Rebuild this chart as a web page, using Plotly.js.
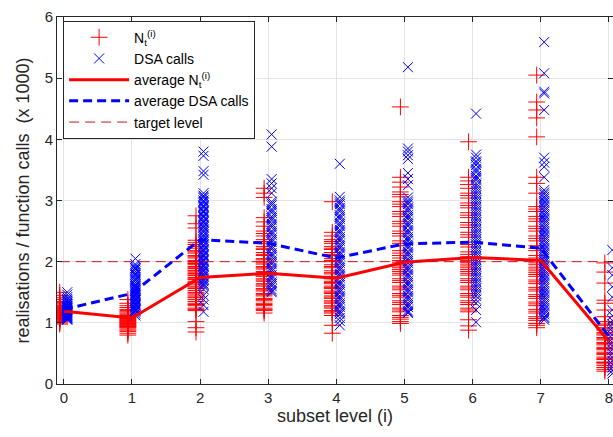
<!DOCTYPE html>
<html>
<head>
<meta charset="utf-8">
<script src="https://cdn.plot.ly/plotly-3.0.1.min.js"></script>
<style>html,body{margin:0;padding:0;background:#fff;}#chart{width:613px;height:437px;}</style>
</head>
<body>
<div id="chart"></div>
<script>
// subset levels
var levels = [0, 1, 2, 3, 4, 5, 6, 7, 8];

// N_t^(i) realisations per level (x 1000)
var nt0 = [1.50,1.45,1.41,1.38,1.35,1.33,1.31,1.29,1.28,1.27,1.25,1.24,1.23,1.22,1.21,1.20,1.19,1.18,1.17,1.16,1.15,1.14,1.13,1.12,1.11,1.10,1.09,1.08,1.07,1.06,1.05,1.04,1.02,1.00,0.98];
var nt1 = [1.38,1.32,1.28,1.25,1.22,1.20,1.18,1.16,1.14,1.12,1.11,1.10,1.09,1.08,1.07,1.06,1.05,1.04,1.03,1.02,1.01,1.00,0.99,0.98,0.97,0.96,0.95,0.94,0.93,0.92,0.90,0.88,0.86,0.83,0.80];
var nt2 = [2.75,2.62,2.55,2.35,2.28,2.22,2.18,2.14,2.10,2.06,2.02,1.98,1.95,1.92,1.89,1.86,1.83,1.80,1.77,1.74,1.71,1.68,1.65,1.62,1.59,1.56,1.53,1.50,1.47,1.44,1.41,1.38,1.35,1.32,1.28,1.24,1.20,1.02,0.92,0.85,
           2.31,2.25,2.16,2.08,2.00,1.97,1.90,1.85,1.81,1.78,1.72,1.66,1.57,1.49,1.42,1.30,1.22];
var nt3 = [3.20,3.12,3.05,2.72,2.65,2.58,2.50,2.42,2.36,2.30,2.25,2.20,2.15,2.10,2.05,2.00,1.96,1.92,1.88,1.84,1.80,1.76,1.72,1.68,1.64,1.60,1.56,1.52,1.48,1.44,1.40,1.36,1.32,1.28,1.24,1.20,1.16,
           2.46,2.33,2.22,2.12,2.03,1.98,1.90,1.82,1.78,1.70,1.62,1.54,1.46,1.38,1.30,1.22];
var nt4 = [2.98,2.48,2.42,2.36,2.30,2.25,2.20,2.15,2.10,2.05,2.00,1.95,1.90,1.85,1.80,1.76,1.72,1.68,1.64,1.60,1.56,1.52,1.48,1.44,1.40,1.36,1.32,1.28,1.24,1.20,1.16,1.12,0.96,0.83,
           2.33,2.22,2.12,2.02,1.92,1.82,1.74,1.66,1.58,1.50,1.42,1.34,1.26,1.18];
var nt5 = [4.53,3.38,3.30,3.22,3.14,3.06,2.98,2.90,2.82,2.74,2.66,2.58,2.50,2.42,2.34,2.26,2.18,2.10,2.02,1.96,1.90,1.84,1.78,1.72,1.66,1.60,1.54,1.48,1.42,1.36,1.30,1.24,1.18,1.12,1.06,1.02,0.99,
           3.10,2.94,2.78,2.62,2.46,2.30,2.14,2.06,1.99,1.93,1.87,1.81,1.69,1.57,1.45,1.33,1.21,1.09];
var nt6 = [3.96,3.38,3.32,3.26,3.20,3.12,3.04,2.96,2.88,2.80,2.72,2.64,2.56,2.48,2.40,2.32,2.24,2.16,2.08,2.02,1.96,1.90,1.84,1.78,1.72,1.66,1.60,1.54,1.48,1.42,1.36,1.30,1.24,1.18,1.05,0.95,0.88,
           3.08,2.92,2.76,2.60,2.44,2.28,2.12,2.05,1.99,1.93,1.87,1.81,1.69,1.57,1.45,1.33,1.21];
var nt7 = [5.05,4.61,4.48,4.35,4.04,3.38,3.28,3.12,2.90,2.82,2.74,2.66,2.58,2.50,2.42,2.34,2.26,2.18,2.10,2.02,1.95,1.88,1.82,1.76,1.70,1.64,1.58,1.52,1.46,1.40,1.34,1.28,1.22,1.16,1.10,1.04,0.99,0.92,
           2.86,2.70,2.54,2.38,2.22,2.06,1.98,1.91,1.85,1.79,1.67,1.55,1.43,1.31,1.19,1.07,0.96];
var nt8 = [1.98,1.83,1.65,1.37,1.32,1.21,1.10,1.02,0.96,0.92,0.88,0.84,0.80,0.76,0.72,0.68,0.64,0.60,0.56,0.52,0.48,0.44,0.40,0.36,0.33,0.30,0.27,0.24,0.21,
           0.98,0.90,0.82,0.74,0.66,0.58,0.50,0.42,0.35];

// DSA calls per level (x 1000)
var dsa0 = [1.50,1.46,1.42,1.39,1.37,1.35,1.33,1.31,1.30,1.28,1.27,1.26,1.25,1.24,1.23,1.22,1.21,1.20,1.19,1.18,1.17,1.16,1.15,1.14,1.13,1.12,1.11,1.10,1.09,1.08,1.07,1.06,1.05];
var dsa1 = [2.05,1.96,1.93,1.90,1.87,1.84,1.81,1.78,1.75,1.72,1.69,1.66,1.63,1.60,1.58,1.56,1.54,1.52,1.50,1.48,1.46,1.44,1.42,1.40,1.38,1.36,1.34,1.32,1.30,1.28,1.26,1.24,1.22,1.20,1.18,1.15,1.12,
            1.89,1.79,1.70,1.61,1.53,1.45,1.37,1.29,1.21];
var dsa2 = [3.80,3.73,3.48,3.42,3.12,3.08,3.04,3.00,2.96,2.92,2.88,2.84,2.80,2.76,2.72,2.68,2.64,2.60,2.56,2.52,2.48,2.44,2.40,2.36,2.32,2.28,2.24,2.20,2.16,2.12,2.08,2.04,2.00,1.96,1.92,1.88,1.84,1.80,1.76,1.72,1.68,1.64,1.60,1.55,1.45,1.38,1.29,1.18,
            3.06,2.98,2.90,2.82,2.74,2.66,2.58,2.50,2.42,2.34,2.26,2.18,2.10,2.02,1.94,1.86,1.78,1.70,1.62];
var dsa3 = [4.08,3.88,3.35,3.28,3.20,3.12,2.98,2.92,2.86,2.80,2.74,2.68,2.62,2.56,2.50,2.44,2.38,2.32,2.26,2.20,2.14,2.08,2.02,1.96,1.90,1.84,1.78,1.72,1.66,1.60,1.55,1.50,
            2.95,2.83,2.71,2.59,2.47,2.35,2.23,2.11,1.99,1.87,1.75,1.63,1.52];
var dsa4 = [3.60,3.06,3.00,2.94,2.88,2.82,2.76,2.70,2.64,2.58,2.52,2.46,2.40,2.34,2.28,2.22,2.16,2.10,2.04,1.98,1.92,1.86,1.80,1.74,1.68,1.62,1.56,1.50,1.44,1.38,1.32,1.26,1.20,1.14,1.08,1.03,0.96,
            2.97,2.85,2.73,2.61,2.49,2.37,2.25,2.13,2.01,1.89,1.77,1.65,1.53,1.41,1.29,1.17];
var dsa5 = [5.18,3.85,3.80,3.74,3.68,3.45,3.35,3.25,3.00,2.94,2.88,2.82,2.76,2.70,2.64,2.58,2.52,2.46,2.40,2.34,2.28,2.22,2.16,2.10,2.04,1.98,1.92,1.86,1.80,1.74,1.68,1.62,1.56,1.50,1.44,1.38,1.32,1.26,1.20,1.16,
            3.05,2.97,2.85,2.73,2.61,2.49,2.37,2.25,2.13,2.01,1.89,1.77,1.65,1.53,1.41,1.29,1.18];
var dsa6 = [4.42,3.75,3.70,3.64,3.58,3.52,3.46,3.40,3.34,3.28,3.20,3.12,3.04,2.96,2.88,2.80,2.72,2.64,2.56,2.48,2.40,2.32,2.24,2.16,2.08,2.00,1.92,1.84,1.76,1.68,1.60,1.52,1.44,1.38,1.32,1.21,1.01,
            3.62,3.49,3.37,3.24,3.16,3.08,3.00,2.92,2.84,2.76,2.68,2.60,2.52,2.44,2.36,2.28,2.20,2.12,2.04,1.96,1.88,1.80,1.72,1.64,1.56,1.48];
var dsa7 = [5.59,5.08,4.78,4.75,4.48,3.70,3.62,3.55,3.38,3.17,3.10,3.03,2.96,2.89,2.82,2.75,2.68,2.61,2.54,2.47,2.40,2.33,2.26,2.19,2.12,2.05,1.98,1.91,1.84,1.77,1.70,1.63,1.56,1.49,1.42,1.35,1.28,1.21,1.14,1.08,1.05,
            3.13,3.06,2.99,2.92,2.85,2.78,2.71,2.64,2.57,2.50,2.43,2.36,2.29,2.22,2.15,2.08,2.01,1.94,1.87,1.80,1.73,1.66,1.59,1.52,1.45,1.38,1.31,1.24,1.17,1.10];
var dsa8 = [2.19,1.90,1.78,1.59,1.42,1.21,1.12,1.04,0.98,0.92,0.86,0.80,0.74,0.68,0.62,0.56,0.50,0.44,0.38,0.32,0.27,0.22,0.17];

// averages per level
var avgNt  = [1.19, 1.08, 1.74, 1.81, 1.73, 1.99, 2.07, 2.02, 0.70];
var avgDSA = [1.22, 1.48, 2.36, 2.30, 2.06, 2.29, 2.32, 2.22, 0.78];
var targetLevel = 2;

var ntSets = [nt0, nt1, nt2, nt3, nt4, nt5, nt6, nt7, nt8];
var dsaSets = [dsa0, dsa1, dsa2, dsa3, dsa4, dsa5, dsa6, dsa7, dsa8];

function flatten(sets, offset) {
  var xs = [], ys = [];
  sets.forEach(function (vals, k) {
    vals.forEach(function (v) { xs.push(levels[k] + offset); ys.push(v); });
  });
  return {x: xs, y: ys};
}
var ntPts = flatten(ntSets, -0.06);
var dsaPts = flatten(dsaSets, 0.05);

var red = 'rgb(255,0,0)';
var blue = 'rgb(0,0,255)';
var fontFam = 'Liberation Sans, Arial, sans-serif';

var traces = [
  {x: ntPts.x, y: ntPts.y, type: 'scatter', mode: 'markers', name: 'N<sub>t</sub><sup>(i)</sup>',
   marker: {symbol: 'cross-thin-open', size: 12, color: red, line: {color: red, width: 1}}},
  {x: dsaPts.x, y: dsaPts.y, type: 'scatter', mode: 'markers', name: 'DSA calls',
   marker: {symbol: 'x-thin-open', size: 10, color: blue, line: {color: blue, width: 1}}},
  {x: levels, y: avgNt, type: 'scatter', mode: 'lines', name: 'average N<sub>t</sub><sup>(i)</sup>',
   line: {color: red, width: 3}},
  {x: levels, y: avgDSA, type: 'scatter', mode: 'lines', name: 'average DSA calls',
   line: {color: blue, width: 3, dash: '9px,5px'}},
  {x: [levels[0] - 1, levels[levels.length - 1] + 1], y: [targetLevel, targetLevel], type: 'scatter', mode: 'lines',
   name: 'target level', line: {color: 'rgb(200,20,30)', width: 1, dash: '10px,6px'}}
];

var axisCommon = {
  showline: true, linecolor: '#262626', linewidth: 1, mirror: 'ticks',
  ticks: 'inside', ticklen: 5, tickcolor: '#262626',
  showgrid: true, gridcolor: '#e3e3e3', gridwidth: 1,
  zeroline: false, ticklabeloverflow: 'allow',
  tickfont: {family: fontFam, size: 15, color: '#262626'}
};

var layout = {
  width: 613, height: 437,
  margin: {l: 57, r: 0, t: 17, b: 53},
  paper_bgcolor: '#fff', plot_bgcolor: '#fff',
  showlegend: true,
  xaxis: Object.assign({}, axisCommon, {
    range: [-0.1, 8.06], tickvals: levels, ticktext: levels.map(String),
    title: {text: 'subset level (i)', standoff: 4, font: {family: fontFam, size: 18, color: '#262626'}}
  }),
  yaxis: Object.assign({}, axisCommon, {
    range: [0, 6], tickvals: [0, 1, 2, 3, 4, 5, 6],
    title: {text: 'realisations / function calls  (x 1000)', standoff: 10, font: {family: fontFam, size: 18, color: '#262626'}}
  }),
  legend: {
    x: 0.011, y: 0.99, xanchor: 'left', yanchor: 'top',
    bgcolor: '#fff', bordercolor: '#262626', borderwidth: 1,
    font: {family: fontFam, size: 14, color: '#000'},
    itemwidth: 60, tracegroupgap: 0
  }
};

Plotly.newPlot('chart', traces, layout, {displayModeBar: false, staticPlot: true});
</script>
</body>
</html>
